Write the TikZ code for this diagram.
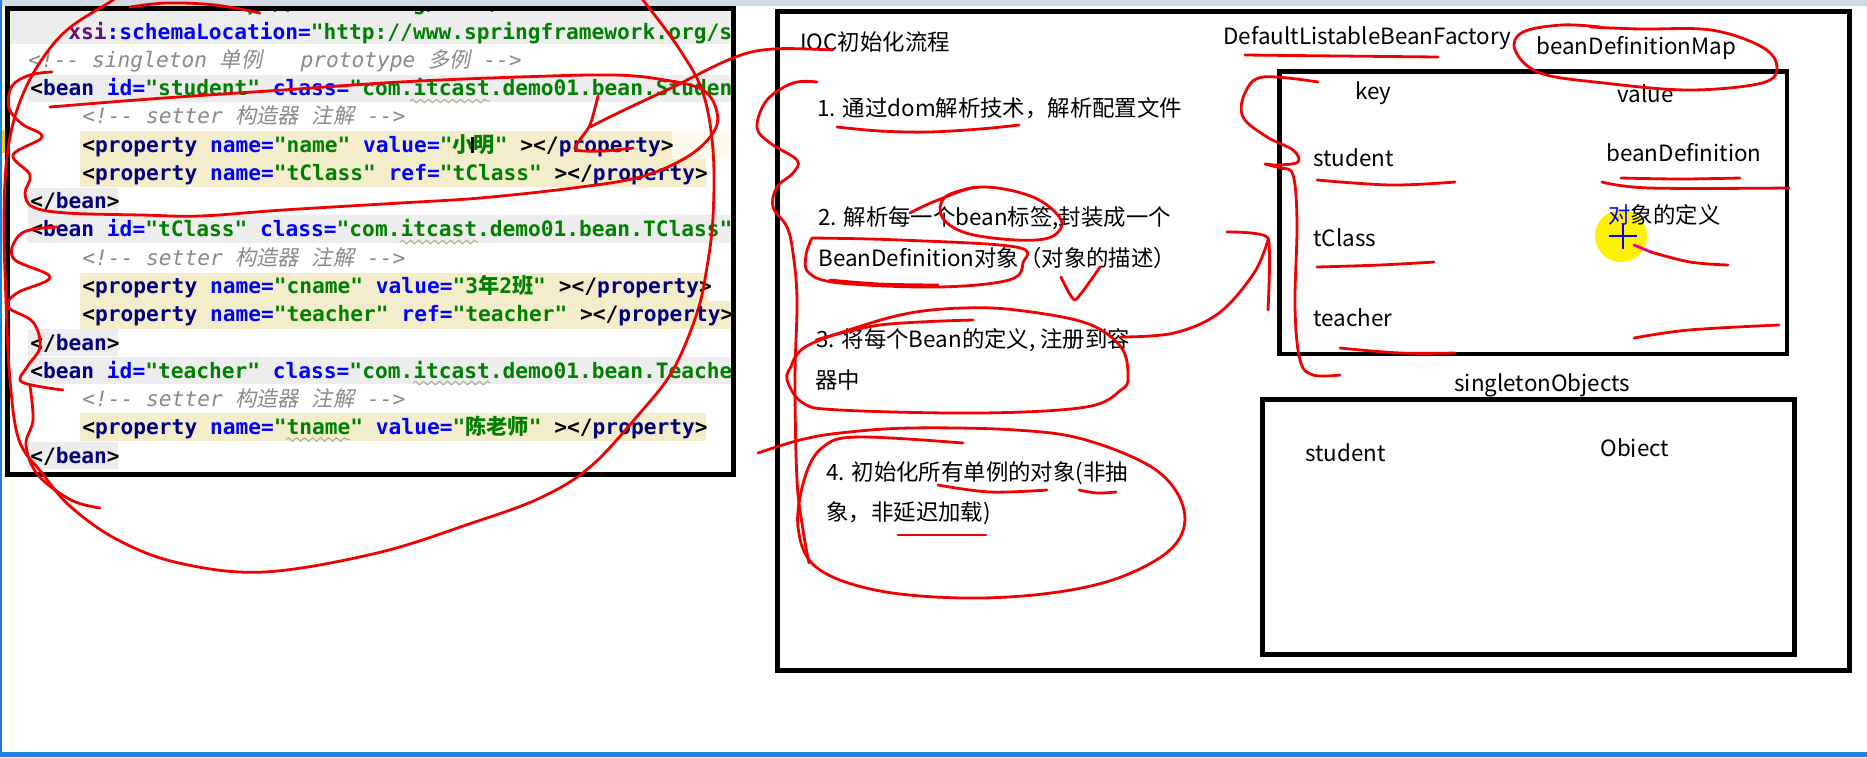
\documentclass[tikz,border=0pt]{standalone}
\usepackage{fontspec}
\setmainfont{Noto Sans CJK SC}
\newfontfamily\cjk{Noto Sans CJK SC}
\newfontfamily\cjkit{Noto Sans CJK SC}[FakeSlant=0.2]
\newfontfamily\mono{DejaVu Sans Mono}
\usetikzlibrary{decorations.pathmorphing}
\definecolor{tagc}{HTML}{000080}
\definecolor{attrc}{HTML}{0000FF}
\definecolor{valc}{HTML}{008000}
\definecolor{cmtc}{HTML}{8A8A8A}
\definecolor{xsic}{HTML}{660E7A}
\definecolor{grayband}{HTML}{EDEDED}
\definecolor{yellowband}{HTML}{F3EDCB}
\definecolor{paleyellow}{HTML}{FDFAEC}
\definecolor{redpen}{HTML}{F00000}
\definecolor{winblue}{HTML}{1E80E0}
\definecolor{topbar}{HTML}{D3DAE6}
\definecolor{wavyc}{HTML}{9DB58A}
\newcommand\codefont{\fontsize{10.6}{12}\mono\bfseries}
\newcommand\bk[1]{{\color{black}#1}}
\newcommand\tg[1]{{\color{tagc}#1}}
\newcommand\at[1]{{\color{attrc}#1}}
\newcommand\vl[1]{{\color{valc}#1}}
\newcommand\xs[1]{{\color{xsic}#1}}
\newcommand\cm[1]{{\color{cmtc}\mdseries\itshape #1}}
\tikzset{
  code/.style={anchor=base west, inner sep=0pt, font=\codefont},
  lbl/.style={anchor=west, inner sep=0pt, font=\fontsize{11.2}{13}\selectfont},
  pen/.style={draw=redpen, line width=1.4pt, line cap=round, line join=round},
  frame/.style={draw=black, line width=2.5pt},
  wavy/.style={draw=wavyc, line width=0.5pt, decorate, decoration={snake, amplitude=0.9pt, segment length=4pt}}
}
\begin{document}
\begin{tikzpicture}[x=0.5pt,y=-0.5pt]
\useasboundingbox (0,0) rectangle (1867,757);
\fill[white] (0,0) rectangle (1867,757);
% window chrome
\fill[topbar] (0,0) rectangle (1867,6);
\fill[winblue] (0,0) rectangle (2,757);
\fill[winblue] (0,752) rectangle (1867,757);
% ---------- code panel backgrounds ----------
\begin{scope}
\clip (10,11) rectangle (730.5,472);
\fill[grayband] (10,0) rectangle (731,44);
\fill[grayband] (28,75) rectangle (731,102);
\fill[grayband] (28,188) rectangle (118,215);
\fill[grayband] (28,215) rectangle (731,243);
\fill[grayband] (28,329) rectangle (118,356);
\fill[grayband] (28,357) rectangle (731,384);
\fill[grayband] (28,442) rectangle (118,469);
\fill[paleyellow] (80,131) rectangle (731,159);
\fill[yellowband] (80,131) rectangle (672,159);
\fill[yellowband] (80,159) rectangle (706,187);
\fill[yellowband] (80,273) rectangle (708,301);
\fill[yellowband] (80,301) rectangle (731,329);
\fill[yellowband] (80,413) rectangle (706,441);
% ---------- code text ----------
\node[code] (c0) at (68,10.7) {\at{xmlns:}\xs{xsi}\at{=}\vl{"http://www.w3.org/2001/XMLSchema-instance"}};
\node[code] (c1) at (68,39) {\xs{xsi}\at{:schemaLocation=}\vl{"http://www.springframework.org/schema/beans}};
\node[code] (c2) at (28,67.3) {\cm{<!-{}- singleton {\cjkit 单例}\ \ \ prototype {\cjkit 多例} -{}->}};
\node[code] (c3) at (30,95.5) {\bk{<}\tg{bean} \at{id=}\vl{"student"} \at{class=}\vl{"com.itcast.demo01.bean.Student"}\bk{>}};
\node[code] (c4) at (82,123.8) {\cm{<!-{}- setter {\cjkit 构造器} {\cjkit 注解} -{}->}};
\node[code] (c5) at (82,152.1) {\bk{<}\tg{property} \at{name=}\vl{"name"} \at{value=}\vl{"{\cjk 小明}"} \bk{></}\tg{property}\bk{>}};
\node[code] (c6) at (82,180.4) {\bk{<}\tg{property} \at{name=}\vl{"tClass"} \at{ref=}\vl{"tClass"} \bk{></}\tg{property}\bk{>}};
\node[code] (c7) at (30,208.6) {\bk{</}\tg{bean}\bk{>}};
\node[code] (c8) at (30,236.9) {\bk{<}\tg{bean} \at{id=}\vl{"tClass"} \at{class=}\vl{"com.itcast.demo01.bean.TClass"}\bk{>}};
\node[code] (c9) at (82,265.2) {\cm{<!-{}- setter {\cjkit 构造器} {\cjkit 注解} -{}->}};
\node[code] (c10) at (82,293.4) {\bk{<}\tg{property} \at{name=}\vl{"cname"} \at{value=}\vl{"3{\cjk 年}2{\cjk 班}"} \bk{></}\tg{property}\bk{>}};
\node[code] (c11) at (82,321.7) {\bk{<}\tg{property} \at{name=}\vl{"teacher"} \at{ref=}\vl{"teacher"} \bk{></}\tg{property}\bk{>}};
\node[code] (c12) at (30,350) {\bk{</}\tg{bean}\bk{>}};
\node[code] (c13) at (30,378.2) {\bk{<}\tg{bean} \at{id=}\vl{"teacher"} \at{class=}\vl{"com.itcast.demo01.bean.Teacher"}\bk{>}};
\node[code] (c14) at (82,406.5) {\cm{<!-{}- setter {\cjkit 构造器} {\cjkit 注解} -{}->}};
\node[code] (c15) at (82,434.8) {\bk{<}\tg{property} \at{name=}\vl{"tname"} \at{value=}\vl{"{\cjk 陈老师}"} \bk{></}\tg{property}\bk{>}};
\node[code] (c16) at (30,463) {\bk{</}\tg{bean}\bk{>}};
\draw[wavy] (410,101) -- (490,101);
\draw[wavy] (400,242) -- (478,242);
\draw[wavy] (413,383) -- (490,383);
\draw[wavy] (286,439.5) -- (350,439.5);
\draw[black, line width=1.5pt] (472,137) -- (472,153);
\end{scope}
\fill[yellow!70!orange] (2,130) rectangle (5,153);
% ---------- frames ----------
\draw[frame] (7.5,8.5) rectangle (733,474.5);
\draw[frame] (777,11.5) rectangle (1849,670);
\draw[frame, line width=2.3pt] (1279.5,71.5) rectangle (1787,354);
\draw[frame] (1262,399.5) rectangle (1794,654.5);
% ---------- right panel text ----------
\node[lbl] (ioc) at (800,42) {IOC初始化流程};
\node[lbl] (dlbf) at (1223,38) {DefaultListableBeanFactory};
\node[lbl] (bdm) at (1536,48) {beanDefinitionMap};
\node[lbl] (s1) at (817,108) {1. 通过dom解析技术，解析配置文件};
\node[lbl] (s2a) at (818,218) {2. 解析每一个bean标签,封装成一个};
\node[lbl] (s2b) at (818,258) {BeanDefinition对象（对象的描述）};
\node[lbl] (s3a) at (816,340) {3. 将每个Bean的定义, 注册到容};
\node[lbl] (s3b) at (815,380) {器中};
\node[lbl] (s4a) at (826,473) {4. 初始化所有单例的对象(非抽};
\node[lbl] (s4b) at (826,513) {象，非延迟加载)};
\fill[yellow] (1621,236) circle (26);
\node[lbl] (key) at (1355,93) {key};
\node[lbl] (val) at (1617,94) {value};
\node[lbl] (kst) at (1313,158) {student};
\node[lbl] (vbd) at (1606,153) {beanDefinition};
\node[lbl] (ktc) at (1313,238) {tClass};
\node[lbl] (vdef) at (1608,215) {{\color{attrc}对}象的定义};
\node[lbl] (kte) at (1313,318) {teacher};
\node[lbl] (sgo) at (1454,385) {singletonObjects};
\node[lbl] (sst) at (1305,453) {student};
\begin{scope}
\clip (1590,420) rectangle (1700,456.5);
\node[lbl, anchor=base west] (sob) at (1600,456) {Object};
\end{scope}
\draw[blue, line width=1.2pt] (1609,236) -- (1637,236) (1623,223) -- (1623,249);
% ---------- red pen annotations ----------
\begin{scope}
\clip (0,0) rectangle (1867,757);
% big loop around the code
\draw[pen] plot[smooth, tension=0.6] coordinates {(128,-12) (113,0) (67,30) (37,67) (17,110) (7,157) (4,220) (6,300) (10,380) (19,440) (42,473) (71,507) (118,540) (179,563) (264,572) (377,553) (472,523) (540,498) (590,467) (640,413) (673,370) (697,313) (707,267) (713,217) (713,150) (703,93) (680,50) (643,0) (632,-12)};
\draw[pen] plot[smooth, tension=0.6] coordinates {(130,7) (167,3) (215,5) (260,13)};
% loop around the student bean
\draw[pen] plot[smooth, tension=0.6] coordinates {(50,107) (150,99) (283,90) (400,82) (519,77) (613,75) (665,80) (703,90) (717,112) (713,133) (687,157) (640,177) (573,188) (480,198) (400,203) (283,210) (200,216) (142,215) (67,213) (33,207) (25,193) (30,175) (13,155) (42,137) (22,124) (9,108) (12,86) (30,75) (52,72)};
% arrow from the title to the code
\draw[pen] plot[smooth, tension=0.6] coordinates {(833,50) (773,49) (733,58) (673,87) (620,112) (590,127)};
\draw[pen] plot[smooth, tension=0.4] coordinates {(598,96) (590,125) (575,149) (603,151) (633,148)};
% zigzag on the left of the code
\draw[pen] plot[smooth, tension=0.6] coordinates {(57,227) (22,233) (13,258) (50,277) (17,293) (8,307) (33,322) (40,347) (27,367) (22,382) (63,390)};
\draw[pen] plot[smooth, tension=0.6] coordinates {(30,386) (33,420) (26,445) (38,475) (71,500) (100,508)};
% squiggle and long line on the left of the steps
\draw[pen] plot[smooth, tension=0.6] coordinates {(817,82) (793,83) (767,100) (757,127) (770,143) (797,160) (793,173) (777,187) (773,207) (787,227) (793,253) (797,300) (795,380) (797,480) (803,530) (809,563)};
% step 1 underline
\draw[pen] plot[smooth, tension=0.6] coordinates {(837,127) (880,131) (928,132) (980,129) (1019,125)};
% step 2: circle around "bean"
\draw[pen] plot[smooth, tension=0.6] coordinates {(910,213) (938,200) (981,187) (1033,197) (1061,220) (1051,237) (1016,240) (966,233) (942,217) (945,197) (975,187)};
% step 2: loop around BeanDefinition
\draw[pen] plot[smooth, tension=0.6] coordinates {(812,238) (900,240) (1016,247) (1023,263) (1009,280) (938,287) (840,283) (809,273) (806,255) (812,238)};
\draw[pen] plot[smooth, tension=0.6] coordinates {(830,280) (880,284) (938,285)};
\draw[pen] plot[smooth, tension=0.3] coordinates {(1061,277) (1075,300) (1100,267)};
% step 3: loop and arrow to the map
\draw[pen] plot[smooth, tension=0.6] coordinates {(816,340) (880,325) (973,320)};
\draw[pen] plot[smooth, tension=0.6] coordinates {(791,367) (805,347) (858,327) (910,313) (963,308) (1016,310) (1086,323) (1121,347) (1128,377) (1121,390) (1086,407) (981,413) (840,410) (803,403) (787,380) (791,367)};
\coordinate (a3s) at (1121,337);
\coordinate (a3t) at (1268,240);
\draw[pen] plot[smooth, tension=0.6] coordinates {(a3s) (1174,333) (1219,313) (1254,273) (a3t)};
\draw[pen] plot[smooth, tension=0.3] coordinates {(1227,232) (1268,238) (1268,310)};
% step 4: loop
\draw[pen] plot[smooth, tension=0.6] coordinates {(758,453) (800,440) (840,433) (910,428) (1016,430) (1086,440) (1156,470) (1184,510) (1173,547) (1121,577) (1051,593) (963,598) (875,590) (816,567) (798,527) (805,477) (823,447) (858,437) (963,443)};
\draw[pen] plot[smooth, tension=0.6] coordinates {(938,485) (990,492) (1047,490)};
\draw[pen] plot[smooth, tension=0.6] coordinates {(1079,490) (1097,493) (1116,492)};
\draw[pen] (898,535) -- (986,535);
% map annotations
\draw[pen] plot[smooth, tension=0.6] coordinates {(1245,55) (1340,56) (1438,57)};
\draw[pen] plot[smooth, tension=0.6] coordinates {(1600,27) (1562,25) (1523,32) (1515,50) (1540,73) (1604,83) (1689,90) (1762,83) (1777,67) (1762,47) (1711,30) (1640,29) (1590,27)};
\draw[pen] plot[smooth, tension=0.6] coordinates {(1318,82) (1263,77) (1245,93) (1243,117) (1267,137) (1293,150) (1298,162) (1277,165) (1265,164) (1280,168) (1293,175) (1297,223) (1295,307) (1300,360) (1313,375) (1340,375)};
\draw[pen] plot[smooth, tension=0.6] coordinates {(1317,180) (1391,185) (1455,182)};
\draw[pen] plot[smooth, tension=0.6] coordinates {(1317,267) (1380,265) (1434,262)};
\draw[pen] plot[smooth, tension=0.6] coordinates {(1340,348) (1400,353) (1455,353)};
\draw[pen] plot[smooth, tension=0.6] coordinates {(1602,182) (1650,188) (1789,188)};
\draw[pen] plot[smooth, tension=0.6] coordinates {(1621,178) (1680,179) (1740,178)};
\draw[pen, draw=magenta] (1634,245) -- (1651,252);
\draw[pen] plot[smooth, tension=0.6] coordinates {(1651,252) (1690,262) (1728,265)};
\draw[pen] plot[smooth, tension=0.6] coordinates {(1634,338) (1689,330) (1779,325)};
\end{scope}
\end{tikzpicture}
\end{document}
